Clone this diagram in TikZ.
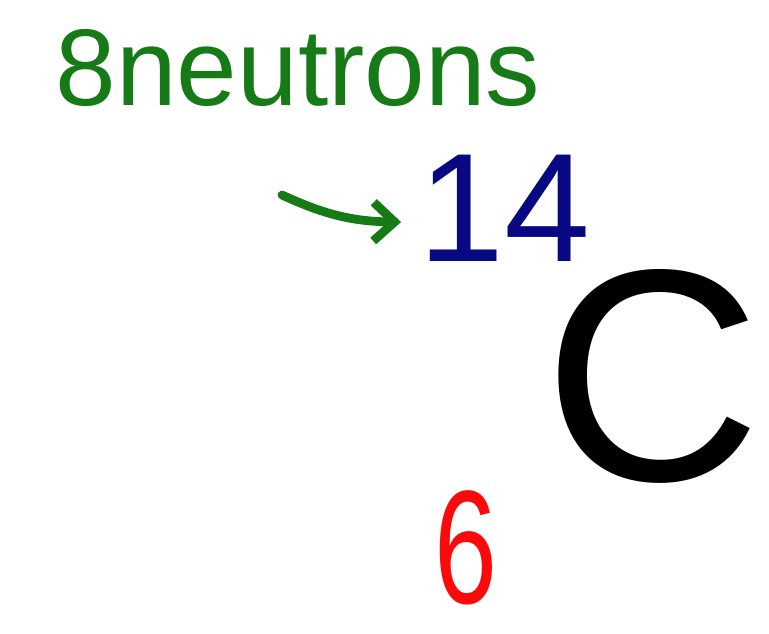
\documentclass[tikz,border=0pt]{standalone}
\usepackage{fontspec}
\setmainfont{Liberation Sans}
\usepackage{tikz}
\usetikzlibrary{arrows.meta, calc, positioning}
\usepackage{xcolor}
\definecolor{penGreen}{RGB}{22,122,22}
\definecolor{penNavy}{RGB}{8,8,130}
\definecolor{penRed}{RGB}{250,10,10}

\begin{document}
\begin{tikzpicture}
    \useasboundingbox (0, 0) rectangle (15.38, 12.68);
    
    % 中子数
    \node[penGreen, inner sep=0pt] (neutrons) at (5.96, 11.32) {\fontsize{62}{62}\selectfont 8neutrons};
    
    % 质量数
    \node[penNavy, inner sep=0pt] (fourteen) at (10.10, 8.52) {\fontsize{88}{88}\selectfont 14};
    
    % 元素符号
    \node[black, inner sep=0pt] (carbon) at (13.05, 5.15) {\fontsize{172}{172}\selectfont C};
    
    % 原子序数
    \node[penRed, inner sep=0pt, xscale=0.7] (six) at (9.32, 1.72) {\fontsize{92}{92}\selectfont 6};
    
    % 箭头
    \coordinate (arrowstart) at (5.64, 8.78);
    \draw[-{Straight Barb[length=12pt, width=22pt]}, penGreen, line width=5pt, line cap=round]
        (arrowstart) to[bend right=12] ([xshift=-10pt, yshift=-8pt]fourteen.west);
\end{tikzpicture}
\end{document}
